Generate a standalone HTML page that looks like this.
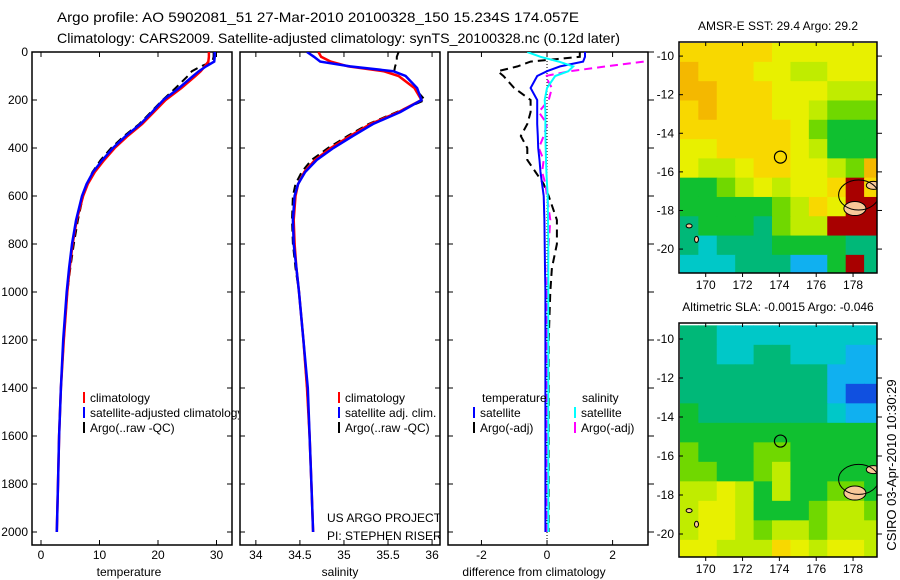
<!DOCTYPE html>
<html><head><meta charset="utf-8"><style>
body{margin:0;background:#fff;}
svg{display:block;font-family:"Liberation Sans",sans-serif;}
</style></head><body>
<svg id="fig" width="900" height="580" viewBox="0 0 900 580" xmlns="http://www.w3.org/2000/svg">
<defs>
<clipPath id="c1"><rect x="0" y="0" width="239" height="580"/></clipPath>
<clipPath id="c2"><rect x="240" y="0" width="200" height="580"/></clipPath>
<clipPath id="p1"><rect x="32" y="52" width="200" height="493"/></clipPath>
<clipPath id="p2"><rect x="240" y="52" width="200" height="493"/></clipPath>
<clipPath id="p3"><rect x="448" y="52" width="200" height="493"/></clipPath>
<clipPath id="m1"><rect x="680" y="43" width="197" height="230"/></clipPath>
<clipPath id="m2"><rect x="680" y="324" width="197" height="233"/></clipPath>
</defs>
<text x="57" y="22" font-size="14" textLength="522" lengthAdjust="spacingAndGlyphs">Argo profile: AO 5902081_51 27-Mar-2010 20100328_150 15.234S 174.057E</text>
<text x="57" y="43" font-size="14" textLength="563" lengthAdjust="spacingAndGlyphs">Climatology: CARS2009. Satellite-adjusted climatology: synTS_20100328.nc (0.12d later)</text>
<g id="g"></g>
<text transform="translate(896,465) rotate(-90)" text-anchor="middle" font-size="13">CSIRO 03-Apr-2010 10:30:29</text>
</svg>
<script>
const depths=[0,20,40,60,80,100,150,200,250,300,350,400,450,500,550,600,700,800,900,1000,1200,1400,1600,1800,2000];
const tempClim=[28.7,28.7,28.6,28.0,27.3,26.4,24.0,21.3,19.3,17.3,14.8,12.6,10.8,9.2,8.0,7.2,6.1,5.4,4.9,4.5,3.9,3.4,3.1,2.9,2.7];
const tempSat=[29.7,29.7,29.6,28.2,27.0,26.0,23.6,20.9,19.0,17.0,14.5,12.3,10.5,8.9,7.8,7.0,6.0,5.3,4.8,4.4,3.8,3.4,3.1,2.9,2.7];
const tempArgo=[29.5,29.5,29.3,27.3,25.8,25.1,23.0,20.8,18.8,16.8,14.2,12.0,10.2,8.8,7.9,7.2,6.3,5.6,5.0,4.5,3.9,3.4,3.1,2.9,2.7];
const salClim=[34.71,34.74,34.85,35.05,35.45,35.62,35.80,35.88,35.62,35.30,35.07,34.85,34.67,34.55,34.48,34.45,34.43,34.44,34.46,34.49,34.54,34.58,34.61,34.63,34.65];
const salSat=[34.58,34.66,34.73,35.07,35.56,35.70,35.83,35.88,35.64,35.33,35.10,34.88,34.69,34.56,34.48,34.44,34.42,34.43,34.46,34.49,34.54,34.59,34.61,34.63,34.65];
const salArgo=[35.62,35.60,35.60,35.58,35.57,35.62,35.80,35.92,35.60,35.28,35.04,34.82,34.63,34.52,34.45,34.42,34.41,34.42,34.45,34.49,34.54,34.58,34.61,34.63,34.65];
const dTempSat=[1.16,1.16,1.10,0.4,0.0,-0.3,-0.5,-0.3,-0.3,-0.3,-0.28,-0.27,-0.23,-0.2,-0.15,-0.1,-0.08,-0.07,-0.06,-0.05,-0.05,-0.05,-0.05,-0.05,-0.05];
const dTempArgo=[1.0,1.0,-0.5,-0.9,-1.5,-1.33,-1.0,-0.5,-0.5,-0.6,-0.8,-0.6,-0.6,-0.35,-0.1,0.05,0.3,0.3,0.15,0.1,0.05,0.05,0.05,0.05,0.05];
const dSalSat=[-0.6,-0.2,0.36,0.8,0.65,0.25,0.0,-0.07,-0.05,-0.05,-0.05,-0.04,-0.03,-0.02,0.0,0.02,0.03,0.04,0.04,0.04,0.04,0.04,0.04,0.04,0.04];
const dSalArgo=[null,null,2.95,1.8,0.7,-0.05,0.15,0.05,-0.25,0.0,-0.1,-0.25,-0.1,-0.15,-0.05,0.0,0.1,0.05,0.02,0.0,0.0,0.0,0.0,0.0,0.0];
const depthTicks=[0,200,400,600,800,1000,1200,1400,1600,1800,2000];
const tempTicks=[0,10,20,30];
const salTicks=[34,34.5,35,35.5,36];
const salTickLabels=["34","34.5","35","35.5","36"];
const diffTicks=[-2,0,2];
const lonTicks=[170,172,174,176,178];
const latTicks=[10,12,14,16,18,20];
const sstGrid=[
[8,8,8,8,8,7,7,7,7,7,7],
[9,8,8,8,7,7,6,6,7,7,7],
[9,9,8,8,8,7,7,7,6,6,6],
[8,9,8,8,8,7,7,6,5,5,5],
[8,8,8,8,8,8,7,5,4,4,4],
[7,7,8,8,8,8,7,6,4,4,4],
[7,6,6,7,8,8,7,7,6,5,9],
[4,4,5,6,7,6,7,7,8,10,8],
[4,4,4,4,4,5,6,8,7,10,10],
[3,4,4,4,3,5,6,6,10,10,10],
[3,2,3,3,3,4,4,4,4,3,3],
[2,2,2,3,3,3,1,1,4,10,3]];
const slaGrid=[
[3,3,2,2,2,2,2,2,2,2,2],
[3,3,2,2,3,3,2,2,2,1,1],
[3,3,3,3,3,3,3,3,1,1,1],
[3,3,3,3,3,3,3,3,1,0,0],
[4,3,3,3,3,3,3,3,2,1,1],
[4,4,4,4,4,4,4,4,4,4,4],
[5,4,4,4,5,5,4,4,4,4,4],
[5,5,4,4,5,6,4,4,4,4,4],
[6,6,7,6,4,6,4,4,5,5,4],
[6,7,7,6,4,4,4,5,6,6,5],
[6,7,7,6,5,6,6,5,6,6,6],
[7,7,6,6,6,8,7,6,7,7,6]];
const palette=["#1050e0","#10b0f0","#00c8c8","#00b878","#10c030","#70d800","#c0ec00","#e8f000","#f8d800","#f4b800","#a80000"];

const NS="http://www.w3.org/2000/svg";
const G=document.getElementById('g');
function mk(tag,attrs,parent){const e=document.createElementNS(NS,tag);for(const k in attrs)e.setAttribute(k,attrs[k]);(parent||G).appendChild(e);return e;}
const yD=d=>52+d*0.24;
const panels=[
 {x0:32,min:-1.54,max:32.65,clip:'p1'},
 {x0:240,min:33.82,max:36.09,clip:'p2'},
 {x0:448,min:-3.02,max:3.08,clip:'p3'}];
function xs(p,v){return p.x0+(v-p.min)/(p.max-p.min)*200;}
function line(p,vals,color,w,dash,name){
  const pts=[];vals.forEach((v,i)=>{if(v!==null)pts.push(xs(p,v).toFixed(1)+','+yD(depths[i]).toFixed(1));});
  const e=mk('polyline',{points:pts.join(' '),fill:'none',stroke:color,'stroke-width':w,'clip-path':'url(#'+p.clip+')'});
  if(dash)e.setAttribute('stroke-dasharray',dash);
  
  
}
const labels=['temperature','salinity','difference from climatology'];
panels.forEach((p,pi)=>{
  const fr=mk('rect',{x:p.x0,y:52,width:200,height:493,fill:'none',stroke:'#000','stroke-width':1.5});
  
  
  depthTicks.forEach(d=>{
    const y=yD(d);
    mk('line',{x1:p.x0,x2:p.x0+5,y1:y,y2:y,stroke:'#000'});
    if(pi<2)mk('line',{x1:p.x0+200,x2:p.x0+195,y1:y,y2:y,stroke:'#000'});
    else mk('line',{x1:p.x0+200,x2:p.x0+206,y1:y,y2:y,stroke:'#000'});
    if(pi===0){const t=mk('text',{x:28,y:y+4,'font-size':12,'text-anchor':'end'});t.textContent=d;
      
      }
  });
  const ticks=pi===0?tempTicks:pi===1?salTicks:diffTicks;
  ticks.forEach((v,i)=>{
    const x=xs(p,v);
    mk('line',{x1:x,x2:x,y1:545,y2:540,stroke:'#000'});
    mk('line',{x1:x,x2:x,y1:52,y2:57,stroke:'#000'});
    const t=mk('text',{x:x,y:559,'font-size':12,'text-anchor':'middle'});
    t.textContent=pi===1?salTickLabels[i]:v;
    
    
  });
  const t=mk('text',{x:p.x0+(pi===2?86:100)+(pi===0?-3:0),y:576,'font-size':12,'text-anchor':'middle'});
  t.textContent=labels[pi];
  
  
});
const z=mk('line',{x1:xs(panels[2],0),x2:xs(panels[2],0),y1:52,y2:545,stroke:'#000','stroke-dasharray':'1,2'});


line(panels[0],tempArgo,'#000',2,'8,5','temp-argo-line');
line(panels[0],tempClim,'#f00',2.5,null,'temp-climatology-line');
line(panels[0],tempSat,'#00f',2.5,null,'temp-satellite-line');
line(panels[1],salArgo,'#000',2,'8,5','sal-argo-line');
line(panels[1],salClim,'#f00',2.5,null,'sal-climatology-line');
line(panels[1],salSat,'#00f',2.5,null,'sal-satellite-line');
line(panels[2],dTempArgo,'#000',2,'8,5','diff-temp-argo-line');
line(panels[2],dSalArgo,'#f0f',2,'8,5','diff-sal-argo-line');
line(panels[2],dTempSat,'#00f',2,null,'diff-temp-satellite-line');
line(panels[2],dSalSat,'#0ff',2,null,'diff-sal-satellite-line');
function leg(x,y,color,txt,clip,name){
  mk('line',{x1:x,x2:x,y1:y-10,y2:y+1,stroke:color,'stroke-width':2});
  const t=mk('text',{x:x+6,y:y,'font-size':12,'clip-path':clip?'url(#'+clip+')':''});t.textContent=txt;
  
  
}
leg(84,402,'#f00','climatology','c1','legend-climatology');
leg(84,417,'#00f','satellite-adjusted climatology','c1','legend-satellite-adjusted');
leg(84,432,'#000','Argo(..raw -QC)','c1','legend-argo');
leg(339,402,'#f00','climatology','c2','legend-climatology');
leg(339,417,'#00f','satellite adj. clim.','c2','legend-satellite-adj');
leg(339,432,'#000','Argo(..raw -QC)','c2','legend-argo');
let tt=mk('text',{x:482,y:402,'font-size':12});tt.textContent='temperature';


tt=mk('text',{x:582,y:402,'font-size':12});tt.textContent='salinity';


leg(474,417,'#00f','satellite',null,'legend-temp-satellite');
leg(474,432,'#000','Argo(-adj)',null,'legend-temp-argo');
leg(575,417,'#0ff','satellite',null,'legend-sal-satellite');
leg(575,432,'#f0f','Argo(-adj)',null,'legend-sal-argo');
tt=mk('text',{x:327,y:522,'font-size':12,'clip-path':'url(#c2)'});tt.textContent='US ARGO PROJECT';


tt=mk('text',{x:327,y:540,'font-size':12,'clip-path':'url(#c2)'});tt.textContent='PI: STEPHEN RISER';


function map(top,bot,latTop,latBot,grid,clip,title,name){
  const mx=v=>679+(v-168.55)/(179.3-168.55)*198;
  const my=v=>top+(v-latTop)/(latBot-latTop)*(bot-top);
  const g=mk('g',{'clip-path':'url(#'+clip+')'});
  
  
  grid.forEach((row,j)=>row.forEach((v,i)=>{
    const lon0=168.6+i,lat0=9.3+j;
    const r=mk('rect',{x:mx(lon0),y:my(lat0),width:mx(lon0+1)-mx(lon0)+0.5,height:my(lat0+1)-my(lat0)+0.5,fill:palette[v]},g);
    
    
  }));
  const isl=mk('ellipse',{cx:mx(178.1),cy:my(17.9),rx:11,ry:7,fill:'#f8c898',stroke:'#000','stroke-width':1},g);
  
  
  mk('ellipse',{cx:mx(179.1),cy:my(16.7),rx:7,ry:4,fill:'#f8c898',stroke:'#000'},g);
  mk('ellipse',{cx:mx(178.3),cy:my(17.2),rx:20,ry:15,fill:'none',stroke:'#000','stroke-width':1},g);
  mk('ellipse',{cx:mx(169.1),cy:my(18.8),rx:3,ry:2,fill:'#f8c898',stroke:'#000'},g);
  mk('ellipse',{cx:mx(169.5),cy:my(19.5),rx:2,ry:3,fill:'#f8c898',stroke:'#000'},g);
  const c=mk('circle',{cx:mx(174.057),cy:my(15.234),r:6,fill:'none',stroke:'#000','stroke-width':1.2});
  
  
  const f=mk('rect',{x:679,y:top,width:198,height:bot-top,fill:'none',stroke:'#000','stroke-width':1.5});
  
  
  lonTicks.forEach(v=>{const x=mx(v);
    mk('line',{x1:x,x2:x,y1:top,y2:top+4,stroke:'#000'});
    mk('line',{x1:x,x2:x,y1:bot,y2:bot+4,stroke:'#000'});
    const t=mk('text',{x:x,y:bot+16,'font-size':12,'text-anchor':'middle'});t.textContent=v;
    
    });
  latTicks.forEach(v=>{const y=my(v);
    mk('line',{x1:679,x2:683,y1:y,y2:y,stroke:'#000'});
    mk('line',{x1:877,x2:882,y1:y,y2:y,stroke:'#000'});
    const t=mk('text',{x:674,y:y+4,'font-size':12,'text-anchor':'end'});t.textContent='-'+v;
    
    });
  const t=mk('text',{x:778,y:top-12,'font-size':12,'text-anchor':'middle'});t.textContent=title;
  
  
}
map(42,273,9.27,21.24,sstGrid,'m1','AMSR-E SST: 29.4 Argo: 29.2','sst-map');
map(323,557,9.18,21.18,slaGrid,'m2','Altimetric SLA: -0.0015 Argo: -0.046','sla-map');
</script>
</body></html>
